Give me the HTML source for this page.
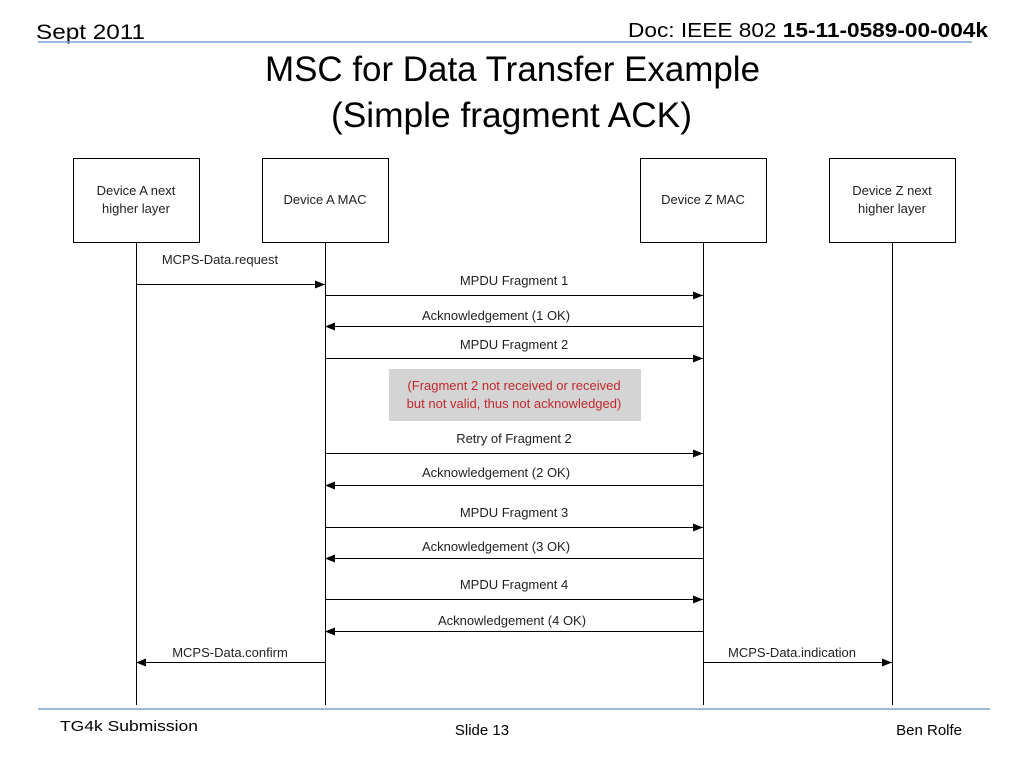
<!DOCTYPE html>
<html><head><meta charset="utf-8"><style>
body{margin:0;background:#fff;}
svg{display:block}
</style></head><body>
<svg width="1024" height="768" xmlns="http://www.w3.org/2000/svg">
<defs><marker id="a" markerWidth="10" markerHeight="8" refX="10" refY="4" orient="auto" markerUnits="userSpaceOnUse"><path d="M0,0 L10,4 L0,8 z" fill="#000"/></marker></defs>
<g font-family="Liberation Sans, sans-serif">
<text x="36" y="39" font-size="21" fill="#000" textLength="109" lengthAdjust="spacingAndGlyphs">Sept  2011</text>
<text x="628" y="37" font-size="20" fill="#000" textLength="360" lengthAdjust="spacingAndGlyphs">Doc: IEEE 802 <tspan font-weight="bold">15-11-0589-00-004k</tspan></text>
<line x1="38" y1="42" x2="972" y2="42" stroke="#7f9fcf" stroke-width="1.5"/>
<text x="265" y="81" font-size="35" textLength="495" lengthAdjust="spacingAndGlyphs">MSC for Data Transfer Example</text>
<text x="331" y="127" font-size="35" textLength="361" lengthAdjust="spacingAndGlyphs">(Simple fragment ACK)</text>
<g fill="#fff" stroke="#000" stroke-width="1">
<rect x="73.5" y="158.5" width="126" height="84"/>
<rect x="262.5" y="158.5" width="126" height="84"/>
<rect x="640.5" y="158.5" width="126" height="84"/>
<rect x="829.5" y="158.5" width="126" height="84"/>
<line x1="136.5" y1="242" x2="136.5" y2="705"/>
<line x1="325.5" y1="242" x2="325.5" y2="705"/>
<line x1="703.5" y1="242" x2="703.5" y2="705"/>
<line x1="892.5" y1="242" x2="892.5" y2="705"/>
</g>
<g font-size="13" text-anchor="middle" fill="#222">
<text x="136" y="195">Device A next</text><text x="136" y="213">higher layer</text>
<text x="325" y="204">Device A MAC</text>
<text x="703" y="204">Device Z MAC</text>
<text x="892" y="195">Device Z next</text><text x="892" y="213">higher layer</text>
</g>
<g stroke="#000" stroke-width="1" marker-end="url(#a)">
<line x1="136" y1="284.5" x2="325" y2="284.5"/>
<line x1="325" y1="295.5" x2="703" y2="295.5"/>
<line x1="703" y1="326.5" x2="325" y2="326.5"/>
<line x1="325" y1="358.5" x2="703" y2="358.5"/>
<line x1="325" y1="453.5" x2="703" y2="453.5"/>
<line x1="703" y1="485.5" x2="325" y2="485.5"/>
<line x1="325" y1="527.5" x2="703" y2="527.5"/>
<line x1="703" y1="558.5" x2="325" y2="558.5"/>
<line x1="325" y1="599.5" x2="703" y2="599.5"/>
<line x1="703" y1="631.5" x2="325" y2="631.5"/>
<line x1="325" y1="662.5" x2="136" y2="662.5"/>
<line x1="703" y1="662.5" x2="892" y2="662.5"/>
</g>
<g font-size="13" fill="#222" text-anchor="middle">
<text x="220" y="264">MCPS-Data.request</text>
<text x="514" y="285">MPDU Fragment 1</text>
<text x="496" y="320">Acknowledgement (1 OK)</text>
<text x="514" y="349">MPDU Fragment 2</text>
<text x="514" y="443">Retry of Fragment 2</text>
<text x="496" y="477">Acknowledgement (2 OK)</text>
<text x="514" y="517">MPDU Fragment 3</text>
<text x="496" y="551">Acknowledgement (3 OK)</text>
<text x="514" y="589">MPDU Fragment 4</text>
<text x="512" y="625">Acknowledgement (4 OK)</text>
<text x="230" y="657">MCPS-Data.confirm</text>
<text x="792" y="657">MCPS-Data.indication</text>
</g>
<rect x="389" y="369" width="252" height="52" fill="#d4d4d4"/>
<g font-size="13" fill="#c0282d" text-anchor="middle">
<text x="514" y="390">(Fragment 2 not received or received</text>
<text x="514" y="408">but not valid, thus not acknowledged)</text>
</g>
<line x1="38" y1="709" x2="990" y2="709" stroke="#7f9fcf" stroke-width="1.5"/>
<text x="60" y="731" font-size="15" textLength="138" lengthAdjust="spacingAndGlyphs">TG4k Submission</text>
<text x="482" y="735" font-size="15" text-anchor="middle">Slide 13</text>
<text x="962" y="735" font-size="15" text-anchor="end">Ben Rolfe</text>
</g>
</svg>
</body></html>
